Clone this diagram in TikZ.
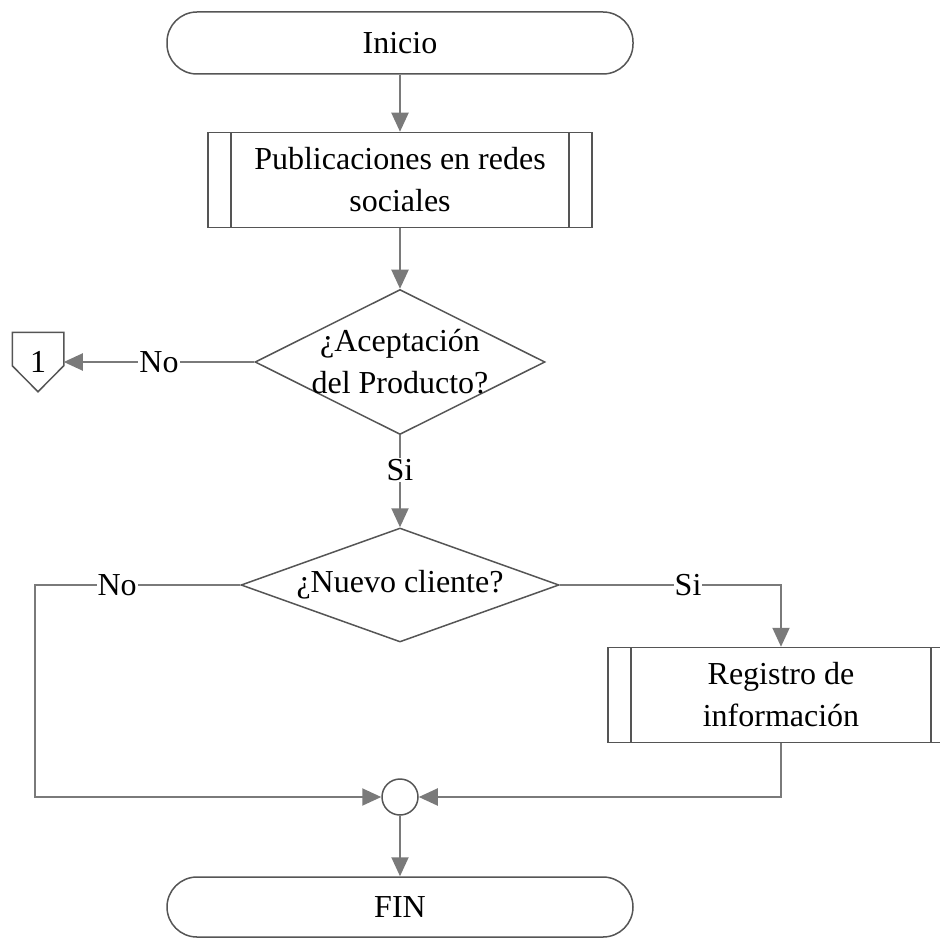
\documentclass[tikz,border=0pt]{standalone}
\usepackage{fontspec}
\setmainfont{Liberation Serif}
\usetikzlibrary{arrows.meta,shapes.geometric,positioning,calc}
\definecolor{lineGray}{HTML}{7A7A7A}
\definecolor{edgeGray}{HTML}{555555}
\tikzset{
    term/.style = {draw=edgeGray, rectangle, rounded corners=30pt,
        minimum width=466pt, minimum height=62pt},
    process/.style = {draw=edgeGray, rectangle, align=center,
        minimum height=95pt, path picture={
        \draw [edgeGray] ([xshift=23pt]path picture bounding box.south west) -- ([xshift=23pt]path picture bounding box.north west);
        \draw [edgeGray] ([xshift=-23pt]path picture bounding box.south east) -- ([xshift=-23pt]path picture bounding box.north east);}},
    decision/.style = {draw=edgeGray, diamond, inner sep=0pt},
    union/.style = {draw=edgeGray, circle, minimum size=36pt, inner sep=0pt},
    offpage/.style = {minimum width=50pt, minimum height=58pt, inner sep=0pt},
    line/.style = {draw=lineGray, line width=2pt},
    arrow/.style = {line, -{Triangle[length=19pt,width=17pt]}},
    lbl/.style = {fill=white, inner sep=1pt}
}
\begin{document}
\begin{tikzpicture}[x=1pt, y=1pt, node distance=137pt, line width=1.5pt,
    font=\fontsize{32}{42}\selectfont]
    \useasboundingbox (0,0) rectangle (939,-952);
    \node [term] at (400,-43) (inicio) {Inicio};
    \node [process, minimum width=384pt, below of=inicio] (pub) {Publicaciones en redes\\sociales};
    \node [decision, minimum width=290pt, minimum height=145pt, below of=pub, node distance=182pt] (acept) {};
    \node [align=center] at (acept) (aceptTxt) {¿Aceptación\\del Producto?};
    \node [decision, minimum width=318pt, minimum height=114pt, below of=acept, node distance=223pt] (nuevo) {};
    \node at (nuevo) (nuevoTxt) {¿Nuevo cliente?};
    \node [process, minimum width=346pt] at (781,-695) (reg) {Registro de\\información};
    \node [union, below of=nuevo, node distance=212pt] (merge) {};
    \node [term, minimum height=60pt, below of=merge, node distance=110pt] (fin) {FIN};
    \node [offpage] at (38,-362) (con1) {1};
    \draw [draw=edgeGray] (con1.north west) -- (con1.north east) -- ([yshift=26pt]con1.south east)
        -- (con1.south) -- ([yshift=26pt]con1.south west) -- cycle;
    \coordinate [left of=nuevo, node distance=365pt] (esq);
    % conectores
    \draw [arrow] (inicio) -- (pub);
    \draw [arrow] (pub) -- (acept);
    \draw [arrow] (acept.west) -- node [lbl] {No} (acept.west -| con1.east);
    \draw [arrow] (acept) -- node [lbl, pos=0.38] {Si} (nuevo);
    \draw [arrow] (nuevo.east) -| node [lbl, pos=0.29] {Si} (reg.north);
    \draw [arrow] (nuevo.west) -- node [lbl, pos=0.6] {No} (esq) |- (merge.west);
    \draw [arrow] (reg.south) |- (merge.east);
    \draw [arrow] (merge) -- (fin);
\end{tikzpicture}
\end{document}
